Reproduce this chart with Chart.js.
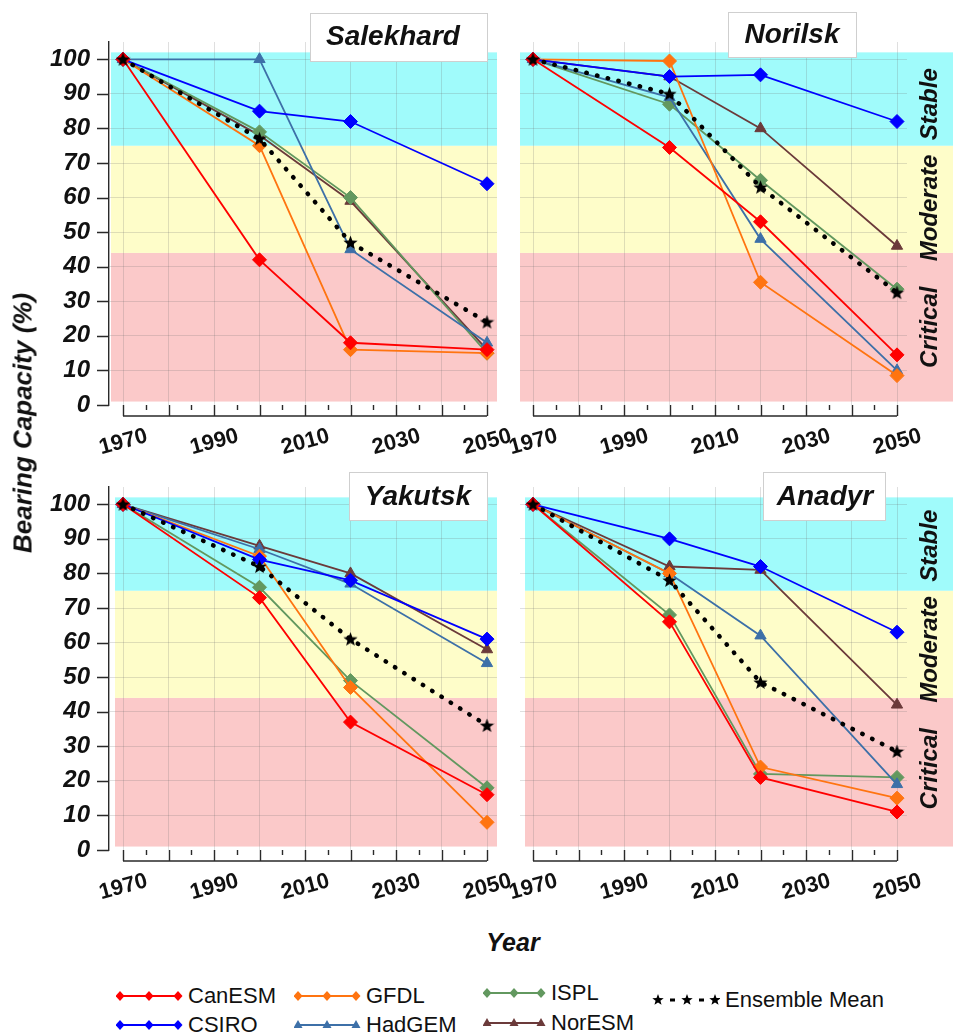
<!DOCTYPE html>
<html>
<head>
<meta charset="utf-8">
<script src="https://cdn.jsdelivr.net/npm/chart.js@4.4.0/dist/chart.umd.min.js"></script>
<style>
  body { margin: 0; background: #fff; }
  #wrap { position: relative; width: 953px; height: 1033px; overflow: hidden; font-family: 'Liberation Sans', Arial, sans-serif; color: #111; }
  #wrap canvas { position: absolute; }
  .axisTitle { position: absolute; font: italic bold 25px 'Liberation Sans', Arial, sans-serif; white-space: nowrap; transform: translate(-50%, -50%); }
  #yTitle { left: 23px; top: 423px; font-size: 26px; transform: translate(-50%, -50%) rotate(-90deg); }
  #xTitle { left: 513px; top: 942px; }
  .leg { position: absolute; display: flex; align-items: center; font: 22px 'Liberation Sans', Arial, sans-serif; white-space: nowrap; transform: translateY(-50%); }
  .leg svg { margin-right: 5px; }
</style>
</head>
<body>
<div id="wrap">
  <canvas id="c0" width="515" height="460" style="left:0;top:0"></canvas>
  <canvas id="c1" width="453" height="460" style="left:500px;top:0"></canvas>
  <canvas id="c2" width="515" height="460" style="left:0;top:445px"></canvas>
  <canvas id="c3" width="453" height="460" style="left:500px;top:445px"></canvas>
  <div id="yTitle" class="axisTitle">Bearing Capacity (%)</div>
  <div id="xTitle" class="axisTitle">Year</div>
  <div id="legend"></div>
</div>
<script>
// data (bearing capacity in %)
const years = [1970, 2000, 2020, 2050];
const cities = ['Salekhard', 'Norilsk', 'Yakutsk', 'Anadyr'];
// one row per city, same order as cities
const canESM       = [[100, 42, 18, 16],  [100, 74.5, 53, 14.5],  [100, 73, 37, 16], [100, 66, 21, 11]];
const csiro        = [[100, 85, 82, 64],  [100, 95, 95.5, 82],    [100, 84, 78, 61], [100, 90, 82, 63]];
const gfdl         = [[100, 75, 16, 15],  [100, 99.5, 35.5, 8.5], [100, 85, 47, 8],  [100, 80, 24, 15]];
const hadGEM       = [[100, 100, 45, 18], [100, 89, 48, 10],      [100, 87, 77, 54], [100, 80, 62, 19]];
const ispl         = [[100, 79, 60, 15],  [100, 87, 65, 33.5],    [100, 76, 49, 18], [100, 68, 22, 21]];
const norESM       = [[100, 78, 59, 16],  [100, 95, 80, 46],      [100, 88, 80, 58], [100, 82, 81, 42]];
const ensembleMean = [[100, 77, 47, 24],  [100, 90, 63, 32.5],    [100, 82, 61, 36], [100, 78, 48.5, 28.5]];

const xTickLabels = [1970, 1990, 2010, 2030, 2050];
const yTickLabels = [0, 10, 20, 30, 40, 50, 60, 70, 80, 90, 100];
const zoneNames = ['Critical', 'Moderate', 'Stable'];
const zoneEdges = [1, 44, 75, 102];

const series = [
  { name: 'CanESM', values: canESM, color: '#ff0000', marker: 'rectRot' },
  { name: 'CSIRO', values: csiro, color: '#0000ff', marker: 'rectRot' },
  { name: 'GFDL', values: gfdl, color: '#ff7410', marker: 'rectRot' },
  { name: 'HadGEM', values: hadGEM, color: '#3d70a8', marker: 'triangle' },
  { name: 'ISPL', values: ispl, color: '#62985f', marker: 'rectRot' },
  { name: 'NorESM', values: norESM, color: '#6b3a3a', marker: 'triangle' }
];

const zoneColors = ['#fbc9c9', '#fefdc9', '#a0fbfb'];
const gridColor = 'rgba(110,110,110,0.22)';
const font = "'Liberation Sans', Arial, sans-serif";
Chart.defaults.font.family = font;
Chart.defaults.color = '#111';

// filled five point star for the ensemble mean
function starCanvas(size, color) {
  const c = document.createElement('canvas');
  c.width = size; c.height = size;
  const g = c.getContext('2d');
  const r = size / 2, ri = r * 0.42;
  g.beginPath();
  for (let i = 0; i < 10; i++) {
    const rr = i % 2 ? ri : r;
    const a = -Math.PI / 2 + i * Math.PI / 5;
    g.lineTo(r + rr * Math.cos(a), r + 0.5 + rr * Math.sin(a));
  }
  g.closePath();
  g.fillStyle = color;
  g.fill();
  return c;
}
const star = starCanvas(15, '#000');

// panel geometry inside each canvas
const panels = [
  { canvas: 'c0', left: 109, right: 497, x1970: 123, x2050: 487, yAxis: true, zones: false, bandL: 2, bandToEdge: false,
    box: [310, 13, 177, 48], titleX: 393, titleY: 37 },
  { canvas: 'c1', left: 20, right: 407, x1970: 33, x2050: 397, yAxis: false, zones: true, bandL: 0, bandToEdge: true,
    box: [228, 12, 128, 45], titleX: 292, titleY: 35, zoneY: [22.5, 57, 87] },
  { canvas: 'c2', left: 109, right: 497, x1970: 123, x2050: 487, yAxis: true, zones: false, bandL: 6, bandToEdge: false,
    box: [349, 27, 138, 48], titleX: 418, titleY: 52 },
  { canvas: 'c3', left: 20, right: 407, x1970: 33, x2050: 397, yAxis: false, zones: true, bandL: 5, bandToEdge: true,
    box: [263, 27, 122, 48], titleX: 325, titleY: 52, zoneY: [23.5, 58, 88] }
];

const panelDecor = {
  id: 'panelDecor',
  beforeDraw(chart, args, o) {
    const { ctx, chartArea: a, scales: { y } } = chart;
    const l = a.left + o.bandL;
    const r = o.bandToEdge ? chart.width : a.right;
    ctx.save();
    for (let i = 0; i < zoneNames.length; i++) {
      const top = y.getPixelForValue(zoneEdges[i + 1]);
      const bot = y.getPixelForValue(zoneEdges[i]);
      ctx.fillStyle = zoneColors[i];
      ctx.fillRect(l, top, r - l, bot - top);
    }
    ctx.restore();
  },
  afterDraw(chart, args, o) {
    const { ctx, chartArea: a, scales: { x, y } } = chart;
    ctx.save();
    ctx.strokeStyle = '#2a2a2a';
    ctx.lineWidth = 1.4;
    // x axis: baseline a little below the plot, ticks hanging from the plot edge
    const base = a.bottom + 11;
    ctx.beginPath();
    ctx.moveTo(x.getPixelForValue(1970), base);
    ctx.lineTo(x.getPixelForValue(2050), base);
    x.ticks.forEach(t => {
      const px = Math.round(x.getPixelForValue(t.value)) + 0.5;
      const len = t.value % 10 === 0 ? 11 : 5;
      ctx.moveTo(px, a.bottom);
      ctx.lineTo(px, a.bottom + len);
    });
    ctx.stroke();
    if (o.yAxis) {
      ctx.beginPath();
      y.ticks.forEach(t => {
        const py = Math.round(y.getPixelForValue(t.value)) + 0.5;
        const len = t.value % 10 === 0 ? 12 : 6;
        ctx.moveTo(a.left, py);
        ctx.lineTo(a.left - len, py);
      });
      ctx.stroke();
    }
    // city name box
    const [bx, by, bw, bh] = o.box;
    ctx.fillStyle = '#fff';
    ctx.fillRect(bx, by, bw, bh);
    ctx.strokeStyle = '#cfcfcf';
    ctx.lineWidth = 1;
    ctx.strokeRect(bx + 0.5, by + 0.5, bw, bh);
    ctx.fillStyle = '#111';
    ctx.font = 'italic bold 28px ' + font;
    ctx.textAlign = 'center';
    ctx.textBaseline = 'middle';
    ctx.fillText(o.title, o.titleX, o.titleY);
    // zone names on the right
    if (o.zones) {
      ctx.font = 'italic bold 24px ' + font;
      zoneNames.forEach((z, i) => {
        ctx.save();
        ctx.translate(430, y.getPixelForValue(o.zoneY[i]));
        ctx.rotate(-Math.PI / 2);
        ctx.fillText(z, 0, 0);
        ctx.restore();
      });
    }
    ctx.restore();
  }
};

function makeChart(p, cityIndex) {
  const canvas = document.getElementById(p.canvas);
  const pxPerYear = (p.x2050 - p.x1970) / 80;
  const xMin = 1970 - (p.x1970 - p.left) / pxPerYear;
  const xMax = 2050 + (p.right - p.x2050) / pxPerYear;
  const datasets = series.map(s => ({
    label: s.name,
    data: years.map((yr, i) => ({ x: yr, y: s.values[cityIndex][i] })),
    borderColor: s.color,
    backgroundColor: s.color,
    borderWidth: 1.8,
    pointStyle: s.marker,
    pointRadius: s.marker === 'triangle' ? 6.5 : 7,
    pointBorderWidth: 1,
    tension: 0
  }));
  datasets.push({
    label: 'Ensemble Mean',
    data: years.map((yr, i) => ({ x: yr, y: ensembleMean[cityIndex][i] })),
    borderColor: '#000',
    backgroundColor: '#000',
    borderWidth: 4.5,
    borderDash: [0.5, 10.5],
    borderCapStyle: 'round',
    pointStyle: star,
    pointRadius: 7,
    order: -1,
    tension: 0
  });

  return new Chart(canvas, {
    type: 'line',
    data: { datasets },
    options: {
      responsive: false,
      animation: false,
      events: [],
      clip: false,
      layout: { padding: { left: 0, top: 42, right: canvas.width - p.right, bottom: 0 } },
      plugins: {
        legend: { display: false },
        tooltip: { enabled: false },
        panelDecor: Object.assign({ title: cities[cityIndex] }, p)
      },
      scales: {
        x: {
          type: 'linear',
          min: xMin,
          max: xMax,
          afterBuildTicks: s => {
            const t = [];
            for (let v = 1970; v <= 2050; v += 5) t.push({ value: v });
            s.ticks = t;
          },
          afterFit: s => { s.height = canvas.height - 405; s.paddingLeft = 0; s.paddingRight = 0; },
          grid: {
            drawTicks: false,
            color: c => (c.tick && c.tick.value % 10 === 0) ? gridColor : 'rgba(0,0,0,0)'
          },
          border: { display: false },
          ticks: {
            autoSkip: false,
            minRotation: 15,
            maxRotation: 15,
            padding: 18,
            labelOffset: 24,
            font: { size: 22, weight: 'bold' },
            color: '#111',
            callback: v => xTickLabels.includes(v) ? String(v) : ''
          }
        },
        y: {
          min: 0,
          max: 105,
          afterBuildTicks: s => {
            const t = [];
            for (let v = 0; v <= 105; v += 5) t.push({ value: v });
            s.ticks = t;
          },
          afterFit: s => { s.width = p.left; s.paddingTop = 0; s.paddingBottom = 0; },
          grid: {
            drawTicks: false,
            color: c => (c.tick && c.tick.value % 10 === 0 && c.tick.value > 0) ? gridColor : 'rgba(0,0,0,0)'
          },
          border: { display: p.yAxis, color: '#2a2a2a', width: 1.4 },
          ticks: {
            display: p.yAxis,
            padding: 19,
            font: { size: 24, weight: 'bold', style: 'italic' },
            color: '#111',
            callback: v => yTickLabels.includes(v) ? String(v) : ''
          }
        }
      }
    },
    plugins: [panelDecor]
  });
}

panels.forEach((p, i) => makeChart(p, i));

// legend
const legendItems = [
  { i: 0, x: 120, y: 996 }, { i: 2, x: 298, y: 996 }, { i: 4, x: 487, y: 993 },
  { i: 1, x: 120, y: 1025 }, { i: 3, x: 298, y: 1025 }, { i: 5, x: 487, y: 1023 }
];
function markerSvg(kind, cx, cy, color) {
  if (kind === 'triangle') {
    return `<polygon points="${cx},${cy - 5} ${cx + 4.5},${cy + 3} ${cx - 4.5},${cy + 3}" fill="${color}"/>`;
  }
  return `<polygon points="${cx},${cy - 5} ${cx + 4.5},${cy} ${cx},${cy + 5} ${cx - 4.5},${cy}" fill="${color}"/>`;
}
const legend = document.getElementById('legend');
legendItems.forEach(li => {
  const s = series[li.i];
  const w = li.x === 487 ? 58 : 62;
  const marks = [4, w / 2 + 2, w].map(cx => markerSvg(s.marker, cx, 8, s.color)).join('');
  const div = document.createElement('div');
  div.className = 'leg';
  div.style.left = (li.x - 4) + 'px';
  div.style.top = li.y + 'px';
  div.innerHTML = `<svg width="${w + 5}" height="16"><line x1="4" y1="8" x2="${w}" y2="8" stroke="${s.color}" stroke-width="2"/>${marks}</svg><span>${s.name}</span>`;
  legend.appendChild(div);
});
(function () {
  const starPts = (cx, cy, r) => {
    const pts = [];
    for (let k = 0; k < 10; k++) {
      const rr = k % 2 ? r * 0.42 : r;
      const a = -Math.PI / 2 + k * Math.PI / 5;
      pts.push((cx + rr * Math.cos(a)).toFixed(2) + ',' + (cy + rr * Math.sin(a)).toFixed(2));
    }
    return `<polygon points="${pts.join(' ')}" fill="#000"/>`;
  };
  const dot = cx => `<rect x="${cx - 2.5}" y="6.5" width="5" height="3" fill="#000"/>`;
  const div = document.createElement('div');
  div.className = 'leg';
  div.style.left = '652px';
  div.style.top = '1000px';
  div.innerHTML = `<svg width="68" height="16">${starPts(6, 8, 6)}${dot(20.5)}${starPts(35, 8, 6)}${dot(49.5)}${starPts(63, 8, 6)}</svg><span>Ensemble Mean</span>`;
  legend.appendChild(div);
})();
</script>
</body>
</html>
